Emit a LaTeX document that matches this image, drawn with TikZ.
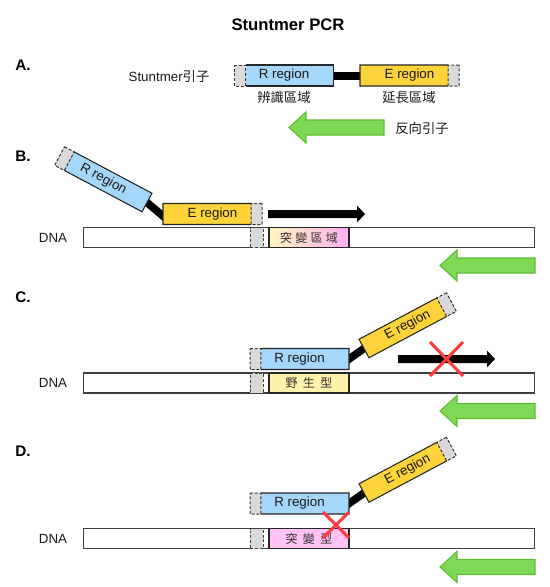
\documentclass[tikz,border=0pt]{standalone}
\usepackage{fontspec}
\setmainfont{Liberation Sans}
\newfontfamily\cjk{Noto Sans CJK TC}
\usetikzlibrary{calc}
\pgfdeclarelayer{bg}
\pgfsetlayers{bg,main}
\newdimen\upx \upx=0.75pt
\definecolor{rblue}{RGB}{165,215,250}
\definecolor{eyellow}{RGB}{255,212,59}
\definecolor{capgray}{RGB}{217,217,217}
\definecolor{ggreen}{RGB}{126,217,87}
\definecolor{gedge}{RGB}{96,188,48}
\definecolor{wtyellow}{RGB}{255,242,170}
\definecolor{mutpink}{RGB}{255,196,245}
\definecolor{gradl}{RGB}{255,246,190}
\definecolor{gradr}{RGB}{255,176,240}
\definecolor{xred}{RGB}{255,60,60}
\tikzset{
  txt/.style={font=\fontsize{10}{12}\selectfont, text=black!90},
  part/.style={rectangle, minimum width=99\upx, minimum height=21\upx, inner sep=0pt, outer sep=0pt, txt},
  rbox/.style={part, fill=rblue},
  ebox/.style={part, fill=eyellow},
  dashpat/.style={dash pattern=on 2.2pt off 1.4pt},
  graycap/.style={fill=capgray, draw=black!80, dashpat, line width=0.75pt},
  solidedge/.style={draw=black!85, line width=0.8pt, line join=miter},
  link/.style={line width=5.8pt, black, shorten <=-3\upx, shorten >=-3\upx},
  dnabox/.style={rectangle, draw=black!75, fill=white, line width=1pt, minimum width=451\upx, minimum height=20\upx, inner sep=0pt, outer sep=0pt},
  strip/.style={rectangle, fill=capgray, draw=black!75, dashpat, line width=0.75pt, minimum width=13\upx, minimum height=20\upx, inner sep=0pt},
  regionbox/.style={rectangle, draw=black!85, line width=0.8pt, minimum width=80\upx, minimum height=20\upx, inner sep=0pt, font=\cjk\fontsize{9}{11}\selectfont, text=black!80},
  lbl/.style={font=\fontsize{10}{12}\selectfont, text=black!90},
  cjklbl/.style={font=\cjk\fontsize{10}{12}\selectfont, text=black!90},
  panel/.style={font=\bfseries\fontsize{11.5}{14}\selectfont, anchor=west, inner sep=0pt},
  xline/.style={draw=xred, line width=2.3pt},
  garrow/.pic={\filldraw[fill=ggreen, draw=gedge, line width=0.8pt, line join=miter]
     (0,0) -- (17,-15.5) -- (17,-7.5) -- (95,-7.5) -- (95,7.5) -- (17,7.5) -- (17,15.5) -- cycle;},
  karrow/.pic={\fill[black]
     (0,-4) -- (89,-4) -- (89,-8.5) -- (97,0) -- (89,8.5) -- (89,4) -- (0,4) -- cycle;}
}
% grey cap at the west end of a node
\newcommand\mkcapL[2]{%
  \path[graycap] (#1.north west) -- ($(#1.north west)!#2!(#1.north east)$) -- ($(#1.south west)!#2!(#1.south east)$) -- (#1.south west) -- cycle;
  \draw[solidedge] ($(#1.north west)!#2!(#1.north east)$) -- (#1.north east) -- (#1.south east) -- ($(#1.south west)!#2!(#1.south east)$);}
% grey cap at the east end of a node
\newcommand\mkcapR[2]{%
  \path[graycap] (#1.north east) -- ($(#1.north east)!#2!(#1.north west)$) -- ($(#1.south east)!#2!(#1.south west)$) -- (#1.south east) -- cycle;
  \draw[solidedge] ($(#1.north east)!#2!(#1.north west)$) -- (#1.north west) -- (#1.south west) -- ($(#1.south east)!#2!(#1.south west)$);}
\begin{document}
\begin{tikzpicture}[x=0.75pt, y=-0.75pt]
\useasboundingbox (0,0) rectangle (550,587);
\begin{pgfonlayer}{bg}
\fill[white] (0,0) rectangle (550,587);
\end{pgfonlayer}

% title and panel letters
\node[font=\bfseries\fontsize{12.5}{15}\selectfont] (title) at (288,25) {Stuntmer PCR};
\node[panel] (pA) at (15,65) {A.};
\node[panel] (pB) at (15,156) {B.};
\node[panel] (pC) at (15,297) {C.};
\node[panel] (pD) at (15,451) {D.};

% ---------- A ----------
\node[lbl] (stlab) at (169,76) {Stuntmer{\cjk 引子}};
\node[rbox] (RA) at (284,75.5) {R region};
\mkcapL{RA}{0.112}
\node[ebox] (EA) at (409.5,75.5) {E region};
\mkcapR{EA}{0.111}
\begin{pgfonlayer}{bg}
\draw[line width=6pt, black] (RA.east) -- (EA.west);
\end{pgfonlayer}
\node[cjklbl] (lblR) at (284,97) {辨識區域};
\node[cjklbl] (lblE) at (409,97) {延長區域};
\pic at (289,127.5) {garrow};
\node[cjklbl] (revlab) at (422,128) {反向引子};

% ---------- B ----------
\node[rbox, rotate=-28, anchor=east] (RB) at (147,202.5) {R region};
\mkcapL{RB}{0.111}
\node[ebox] (EB) at (212.5,214) {E region};
\mkcapR{EB}{0.111}
\begin{pgfonlayer}{bg}
\draw[link] (RB.east) -- ($(EB.west)+(0,2)$);
\end{pgfonlayer}
\pic at (268,214) {karrow};
\node[lbl] (dnaB) at (53,237.5) {DNA};
\node[dnabox] (DB) at (309,237.5) {};
\node[strip] (SB) at (256.5,237.5) {};
\node[regionbox, left color=gradl, right color=gradr] (MB) at (309,237.5) {突\hspace{2.5pt}變\hspace{2.5pt}區\hspace{2.5pt}域};
\pic at (440,265.5) {garrow};

% ---------- C ----------
\node[rbox] (RC) at (299.5,359) {R region};
\mkcapL{RC}{0.111}
\node[ebox, rotate=28, anchor=west] (EC) at (364,348.5) {E region};
\mkcapR{EC}{0.111}
\begin{pgfonlayer}{bg}
\draw[link] (RC.east) -- (EC.west);
\end{pgfonlayer}
\pic at (398,359) {karrow};
\node[lbl] (dnaC) at (53,383) {DNA};
\node[dnabox] (DC) at (309,383) {};
\node[strip] (SC) at (256.5,383) {};
\node[regionbox, fill=wtyellow] (MC) at (309,383) {野\hspace{4pt}生\hspace{4pt}型};
\pic at (440,411) {garrow};
\coordinate (XC) at (446.5,359);
\draw[xline] ($(XC)+(-16.5,-17)$) -- ($(XC)+(16.5,17)$);
\draw[xline] ($(XC)+(16.5,-17)$) -- ($(XC)+(-16.5,17)$);

% ---------- D ----------
\node[rbox] (RD) at (299.5,503.5) {R region};
\mkcapL{RD}{0.111}
\node[ebox, rotate=28, anchor=west] (ED) at (364,493) {E region};
\mkcapR{ED}{0.111}
\begin{pgfonlayer}{bg}
\draw[link] (RD.east) -- (ED.west);
\end{pgfonlayer}
\node[lbl] (dnaD) at (53,538.5) {DNA};
\node[dnabox] (DD) at (309,538.5) {};
\node[strip] (SD) at (256.5,538.5) {};
\node[regionbox, fill=mutpink] (MD) at (309,538.5) {突\hspace{4pt}變\hspace{4pt}型};
\pic at (440,567) {garrow};
\coordinate (XD) at (336,525);
\draw[xline] ($(XD)+(-13,-13)$) -- ($(XD)+(13,13)$);
\draw[xline] ($(XD)+(13,-13)$) -- ($(XD)+(-13,13)$);
\end{tikzpicture}
\end{document}
